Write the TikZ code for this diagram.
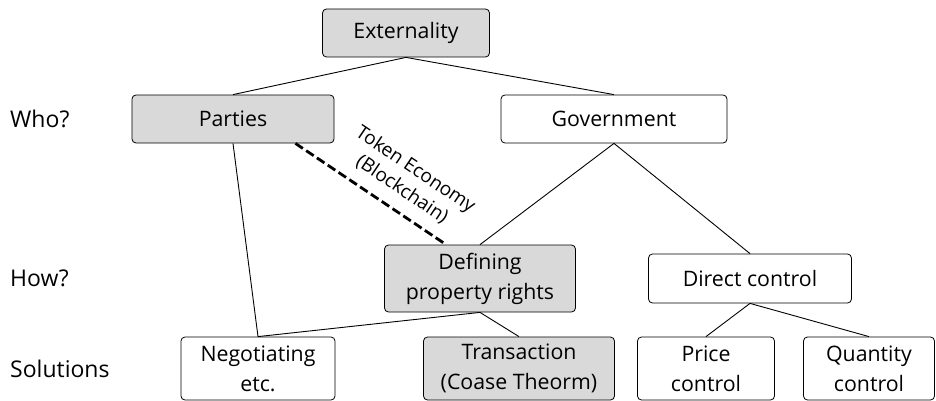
\documentclass[tikz,border=0pt]{standalone}
\usepackage{fontspec}
\setmainfont{Open Sans}
\usepackage{tikz}
\usetikzlibrary{positioning}
\definecolor{boxGray}{RGB}{217,217,217}
\tikzstyle{grayBox} = [rectangle, rounded corners=4pt, draw=black, line width=0.8pt, fill=boxGray, text centered, align=center, inner sep=1pt, font=\fontsize{21.3}{30}\selectfont]
\tikzstyle{whiteBox} = [rectangle, rounded corners=4pt, draw=black, line width=0.8pt, fill=white, text centered, align=center, inner sep=1pt, font=\fontsize{21.3}{30}\selectfont]
\tikzstyle{rowLabel} = [anchor=west, inner sep=0pt, font=\fontsize{23}{28}\selectfont]
\tikzstyle{treeLine} = [line width=0.9pt]
\tikzstyle{tokenLine} = [line width=2.8pt, dash pattern=on 9pt off 4pt]

\begin{document}
\begin{tikzpicture}[node distance=86pt]
    \useasboundingbox (-406pt,33pt) rectangle (530pt,-368pt);
    \node (ext) [grayBox, minimum width=167pt, minimum height=48pt] {Externality};
    \node (parties) [grayBox, minimum width=202pt, minimum height=48pt, below of=ext, xshift=-173pt] {Parties};
    \node (gov) [whiteBox, minimum width=226pt, minimum height=48pt, below of=ext, xshift=208pt] {Government};
    \node (def) [grayBox, minimum width=191pt, minimum height=67pt, below of=gov, xshift=-134pt, yshift=-73.5pt] {Defining\\property rights};
    \node (direct) [whiteBox, minimum width=203pt, minimum height=49pt, right of=def, xshift=184pt] {Direct control};
    \node (neg) [whiteBox, minimum width=154pt, minimum height=63pt, below of=def, xshift=-222pt, yshift=-4pt] {Negotiating\\etc.};
    \node (trans) [grayBox, minimum width=191pt, minimum height=63pt, below of=def, xshift=39pt, yshift=-4pt] {Transaction\\(Coase Theorm)};
    \node (price) [whiteBox, minimum width=137pt, minimum height=63pt, below of=direct, xshift=-44pt, yshift=-4pt] {Price\\control};
    \node (quant) [whiteBox, minimum width=131pt, minimum height=63pt, below of=direct, xshift=119pt, yshift=-4pt] {Quantity\\control};

    % row labels on the left
    \node (who) [rowLabel] at (-396pt,-86pt) {Who?};
    \node (how) [rowLabel] at (-396pt,-245.5pt) {How?};
    \node (sol) [rowLabel] at (-396pt,-335.5pt) {Solutions};

    \draw [treeLine] (ext.south) -- (parties.north);
    \draw [treeLine] (ext.south) -- (gov.north);
    \draw [treeLine] (parties.south) -- (neg.north);
    \draw [treeLine] (def.south) -- (neg.north);
    \draw [treeLine] (def.south) -- (trans.north);
    \draw [treeLine] (gov.south) -- (def.north);
    \draw [treeLine] (gov.south) -- (direct.north);
    \draw [treeLine] (direct.south) -- (price.north);
    \draw [treeLine] (direct.south) -- (quant.north);
    \coordinate (tokenStart) at ([xshift=-39pt]parties.south east);
    \coordinate (tokenEnd) at ([xshift=62pt]def.north west);
    \draw [tokenLine] (tokenStart) -- node[pos=0.63, above=10pt, sloped, align=center, inner sep=1pt, font=\fontsize{19}{24}\selectfont] {Token Economy\\(Blockchain)} (tokenEnd);
\end{tikzpicture}
\end{document}
